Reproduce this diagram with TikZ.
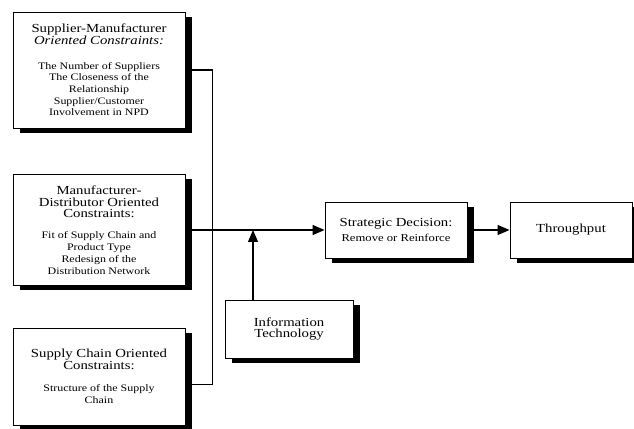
\documentclass[tikz,border=0pt]{standalone}
\usepackage{fontspec}
\setmainfont{Liberation Serif}[FakeStretch=1.2]
\usetikzlibrary{arrows.meta}

\newcommand{\ttlfont}{\fontsize{10.5}{10.5}\selectfont}
\newcommand{\bdyfont}{\fontsize{8.5}{10}\selectfont}

\tikzset{
  cbox/.style={draw, fill=white, line width=0.8pt, align=center, font=\bdyfont,
               preaction={fill=black,
                          transform canvas={shift={(0.22cm,-0.15cm)}}}},
  link/.style={line width=1.1pt},
  tip/.style={-{Triangle[length=0.36cm, width=0.3cm]}}
}

\begin{document}
\begin{tikzpicture}
  \useasboundingbox (0,0) rectangle (19.02,12.84);

  % constraint boxes
  \node[cbox, minimum width=5.16cm, minimum height=3.48cm] (supman) at (2.97,10.74)
    {\ttlfont Supplier-Manufacturer\\ \ttlfont\itshape Oriented Constraints:\\[11pt]
     The Number of Suppliers\\The Closeness of the\\Relationship\\
     Supplier/Customer\\Involvement in NPD};
  \node[cbox, minimum width=5.16cm, minimum height=3.33cm] (mandist) at (2.97,5.94)
    {\ttlfont Manufacturer-\\ \ttlfont Distributor Oriented\\ \ttlfont Constraints:\\[8pt]
     Fit of Supply Chain and\\Product Type\\Redesign of the\\Distribution Network};
  \node[cbox, minimum width=5.16cm, minimum height=2.91cm] (chain) at (2.97,1.545)
    {\ttlfont Supply Chain Oriented\\ \ttlfont Constraints:\\[9pt]
     Structure of the Supply\\Chain};

  % other boxes
  \node[cbox, minimum width=3.84cm, minimum height=1.74cm] (infotech) at (8.67,2.97)
    {\ttlfont Information\\ \ttlfont Technology};
  \node[cbox, minimum width=4.26cm, minimum height=1.68cm] (decision) at (11.88,5.94)
    {\ttlfont Strategic Decision:\\[3pt] \fontsize{9}{10}\selectfont Remove or Reinforce};
  \node[cbox, minimum width=3.66cm, minimum height=1.68cm] (thru) at (17.13,5.94)
    {\ttlfont Throughput};

  \coordinate (itjoin) at (7.59,5.94);

  % connectors
  \draw[link] (supman.east) -- ++(0.81,0) |- ([yshift=-0.25cm]chain.east);
  \draw[link, tip] (mandist.east) -- (decision.west);
  \draw[link, tip] (infotech.north -| itjoin) -- (itjoin);
  \draw[link, tip] (decision.east) -- (thru.west);
\end{tikzpicture}
\end{document}
